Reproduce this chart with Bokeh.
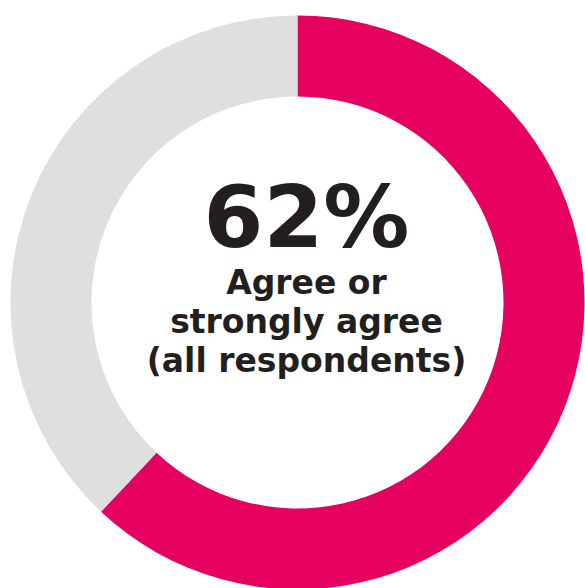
import math
from bokeh.plotting import figure
from bokeh.models import ColumnDataSource, Range1d
from bokeh.core.properties import value
from bokeh.embed import file_html
from bokeh.resources import INLINE

# data
categories = ["Agree or strongly agree", "Other"]
shares = [62, 38]
colors = ["#E6005F", "#DFDFDF"]
headline = "62%"
label_lines = ["Agree or", "strongly agree", "(all respondents)"]

W, H = 585, 588
p = figure(width=W, height=H, output_backend="svg", toolbar_location=None,
           x_range=Range1d(0, W), y_range=Range1d(0, H), min_border=0,
           outline_line_color=None, background_fill_color="white",
           border_fill_color="white")
p.axis.visible = False
p.grid.visible = False

total = sum(shares)
starts, ends = [], []
a = math.pi / 2
for s in shares:
    starts.append(a)
    a = a - 2 * math.pi * s / total
    ends.append(a)

cx, cy = 297, H - 302
src = ColumnDataSource(dict(cat=categories, val=shares, color=colors,
                            start=starts, end=ends))
p.annular_wedge(x=cx, y=cy, inner_radius=206, outer_radius=287,
                start_angle="start", end_angle="end", direction="clock",
                fill_color="color", line_color=None, source=src)

tx = 306
p.text(x=[tx], y=[H - 216], text=[headline], text_font=value("DejaVu Sans"),
       text_font_style="bold", text_font_size="86px", text_align="center",
       text_baseline="alphabetic", text_color="#231F20")
p.text(x=[tx] * 3, y=[H - 282, H - 321, H - 360], text=label_lines,
       text_font=value("DejaVu Sans"), text_font_style="bold",
       text_font_size="33px", text_align="center",
       text_baseline="alphabetic", text_color="#231F20")

open("out.html", "w").write(file_html(p, INLINE))
